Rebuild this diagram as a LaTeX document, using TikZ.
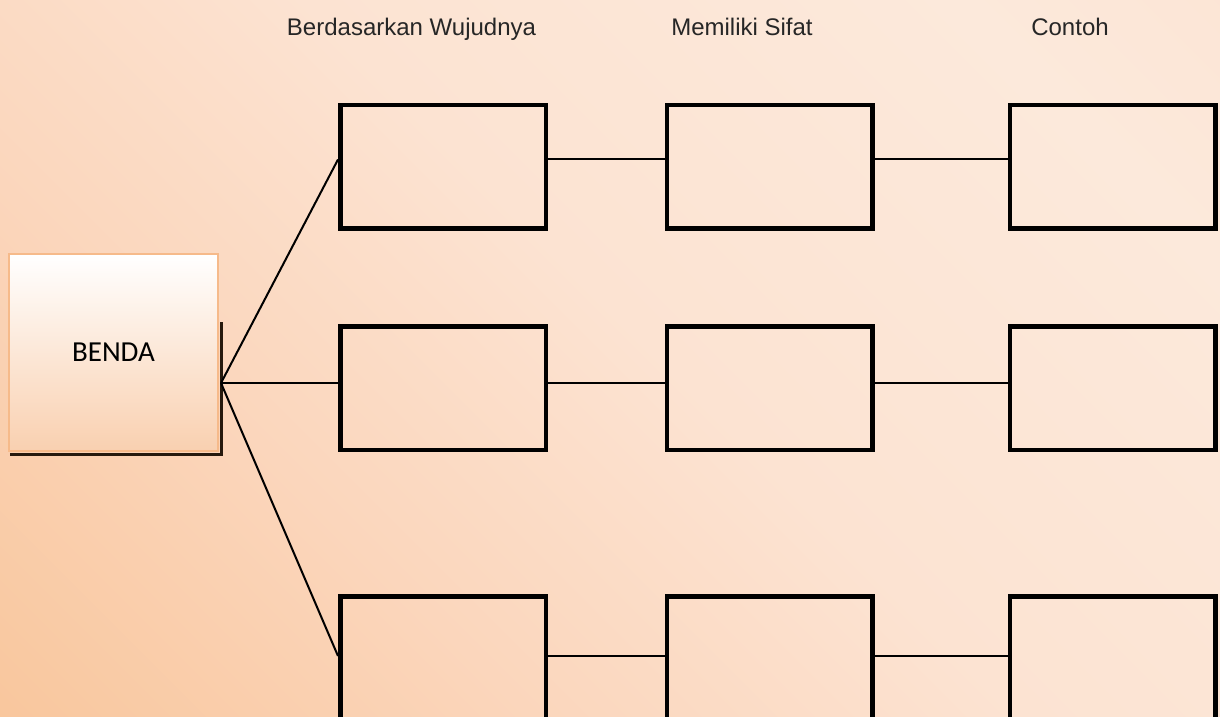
\documentclass[tikz,border=0pt]{standalone}
\usepackage{fontspec}
\usepackage{tikz}
\newfontfamily\arialfont{Liberation Sans}
\newfontfamily\calibrifont{Carlito}
\definecolor{bgdark}{RGB}{248,195,150}
\definecolor{bgsoft}{RGB}{251,214,188}
\definecolor{bgmid}{RGB}{252,227,210}
\definecolor{bgpale}{RGB}{252,233,219}
\definecolor{bglight}{RGB}{252,224,206}
\definecolor{bendafill}{RGB}{249,208,176}
\definecolor{bendaline}{RGB}{246,186,138}
\definecolor{titletext}{RGB}{38,38,38}
\pgfdeclareverticalshading{latar}{100bp}{color(0bp)=(bgdark); color(10bp)=(bgdark); color(34bp)=(bgsoft); color(52bp)=(bgmid); color(76bp)=(bgpale); color(100bp)=(bglight)}

\begin{document}
\begin{tikzpicture}[x=1pt, y=-1pt,
    kotak/.style={draw=black, line width=4.5pt, minimum width=205.5pt, minimum height=123.5pt},
    garis/.style={draw=black, line width=2pt},
    judul/.style={anchor=base, text=titletext, font=\arialfont\fontsize{24}{28}\selectfont}]
            \useasboundingbox (0,0) rectangle (1220,717);
            \shade[shading=latar, shading angle=-45] (0,0) rectangle (1220,717);

            \node[judul] (tWujud) at (411.5,36) {Berdasarkan Wujudnya};
            \node[judul] (tSifat) at (742,36) {Memiliki Sifat};
            \node[judul] (tContoh) at (1070,36) {Contoh};

            % benda
            \draw[line width=3pt, color=black!80!brown] (221,322) -- (221,454) -- (10,454);
            \node[draw=bendaline, line width=2pt, top color=white, bottom color=bendafill,
                minimum width=209pt, minimum height=197pt, font=\calibrifont\fontsize{29}{34}\selectfont]
                (benda) at (113.5,352.5) {BENDA};
            \coordinate (pusat) at (221,383);

            % kolom
            \node[kotak] (wujud1) at (443,166.5) {};
            \node[kotak] (wujud2) at (443,388) {};
            \node[kotak] (wujud3) at (443,658) {};
            \node[kotak] (sifat1) at (769.5,166.5) {};
            \node[kotak] (sifat2) at (769.5,388) {};
            \node[kotak] (sifat3) at (769.5,658) {};
            \node[kotak] (contoh1) at (1112.5,166.5) {};
            \node[kotak] (contoh2) at (1112.5,388) {};
            \node[kotak] (contoh3) at (1112.5,658) {};

            \draw[garis] (pusat) -- ([yshift=7pt]wujud1.west);
            \draw[garis] (pusat) -- ([yshift=5pt]wujud2.west);
            \draw[garis] (pusat) -- ([yshift=2pt]wujud3.west);

            \draw[garis] ([yshift=8pt]wujud1.east) -- ([yshift=8pt]sifat1.west);
            \draw[garis] ([yshift=8pt]sifat1.east) -- ([yshift=8pt]contoh1.west);
            \draw[garis] ([yshift=5pt]wujud2.east) -- ([yshift=5pt]sifat2.west);
            \draw[garis] ([yshift=5pt]sifat2.east) -- ([yshift=5pt]contoh2.west);
            \draw[garis] ([yshift=2pt]wujud3.east) -- ([yshift=2pt]sifat3.west);
            \draw[garis] ([yshift=2pt]sifat3.east) -- ([yshift=2pt]contoh3.west);
        \end{tikzpicture}
\end{document}
